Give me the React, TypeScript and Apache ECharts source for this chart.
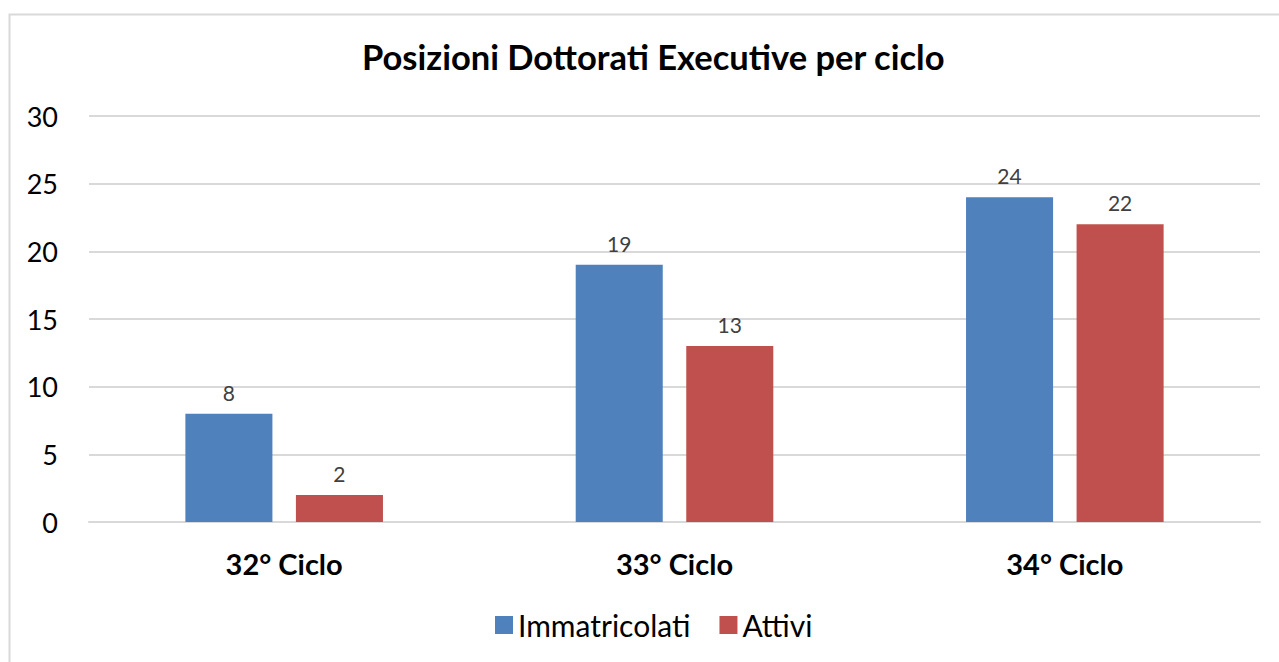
import React, { useEffect, useRef } from "react";
import * as echarts from "echarts";

const categories = ["32° Ciclo", "33° Ciclo", "34° Ciclo"];
const immatricolati = [8, 19, 24];
const attivi = [2, 13, 22];
const yTicks = [0, 5, 10, 15, 20, 25, 30];

const FONT = "Lato, 'Open Sans', sans-serif";

export default function App() {
  const ref = useRef<HTMLDivElement>(null);
  useEffect(() => {
    if (!ref.current) return;
    const chart = echarts.init(ref.current, null, { renderer: "svg" });
    chart.setOption({
      animation: false,
      backgroundColor: "#ffffff",
      title: {
        text: "Posizioni Dottorati Executive per ciclo",
        left: 357,
        top: 34,
        textStyle: { fontFamily: FONT, fontWeight: "bold", fontSize: 34.5, color: "#000000" },
      },
      graphic: [
        {
          type: "rect",
          shape: { x: 9.5, y: 14.5, width: 1300, height: 700 },
          style: { fill: "none", stroke: "#d9d9d9", lineWidth: 2 },
          silent: true,
        },
      ],
      legend: {
        bottom: 17,
        left: 490,
        itemWidth: 18,
        itemHeight: 18,
        itemGap: 29,
        icon: "rect",
        textStyle: { fontFamily: FONT, fontSize: 30, color: "#000000" },
        data: ["Immatricolati", "Attivi"],
      },
      grid: { left: 89, right: 19, top: 116, bottom: 140 },
      xAxis: {
        type: "category",
        data: categories,
        axisLine: { lineStyle: { color: "#d9d9d9", width: 2 } },
        axisTick: { show: false },
        axisLabel: {
          fontFamily: FONT,
          fontWeight: "bold",
          fontSize: 29,
          color: "#000000",
          margin: 27,
        },
      },
      yAxis: {
        type: "value",
        min: yTicks[0],
        max: yTicks[yTicks.length - 1],
        interval: 5,
        axisLine: { show: false },
        axisTick: { show: false },
        splitLine: { lineStyle: { color: "#d9d9d9", width: 2 } },
        axisLabel: { fontFamily: FONT, fontSize: 27, color: "#000000", margin: 31 },
      },
      series: [
        {
          name: "Immatricolati",
          type: "bar",
          data: immatricolati,
          barWidth: "22.3%",
          barGap: "27%",
          itemStyle: { color: "#4f81bd" },
          label: {
            show: true,
            position: "top",
            distance: 11,
            fontFamily: FONT,
            fontSize: 21,
            color: "#404040",
          },
        },
        {
          name: "Attivi",
          type: "bar",
          data: attivi,
          barWidth: "22.3%",
          itemStyle: { color: "#c0504d" },
          label: {
            show: true,
            position: "top",
            distance: 11,
            fontFamily: FONT,
            fontSize: 21,
            color: "#404040",
          },
        },
      ],
    });
    return () => chart.dispose();
  }, []);
  return (
    <div
      ref={ref}
      style={{ position: "absolute", left: 0, top: 0, width: 1279, height: 662 }}
    />
  );
}
